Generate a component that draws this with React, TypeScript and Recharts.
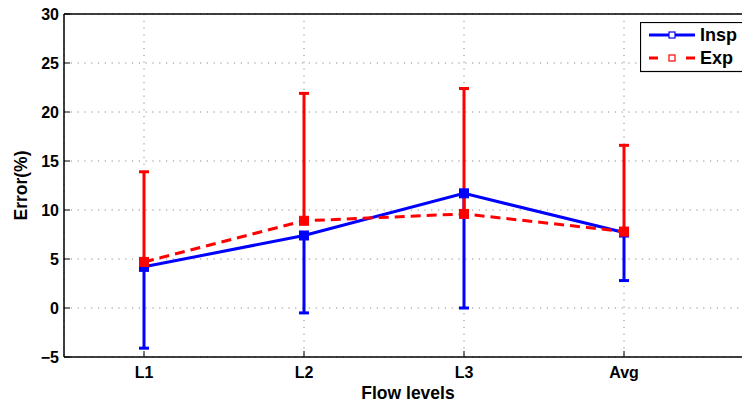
import React from 'react';
import { LineChart, Line, XAxis, YAxis, CartesianGrid, ErrorBar, ReferenceLine } from 'recharts';

const categories = ['L1', 'L2', 'L3', 'Avg'];
const inspMean = [4.2, 7.4, 11.7, 7.7];
const inspLowerErr = [8.3, 7.9, 11.7, 4.9];
const expMean = [4.7, 8.9, 9.6, 7.8];
const expUpperErr = [9.2, 13.0, 12.8, 8.8];
const yTicks = [-5, 0, 5, 10, 15, 20, 25, 30];
const xTicks = [1, 2, 3, 4];
const seriesNames = ['Insp', 'Exp'];

const data = categories.map((c, i) => ({
  x: i + 1,
  cat: c,
  insp: inspMean[i],
  inspErr: [inspLowerErr[i], 0],
  exp: expMean[i],
  expErr: [0, expUpperErr[i]],
}));

const FONT = '"Liberation Sans", Arial, Helvetica, sans-serif';
const BLUE = '#0000ff';
const RED = '#ff0000';

const squareDot = (color: string) => (props: any) => {
  const { cx, cy, index } = props;
  if (cx == null || cy == null) return <g key={index} />;
  return <rect key={index} x={cx - 4.5} y={cy - 4.5} width={9} height={9} fill={color} stroke={color} strokeWidth={1} />;
};

const LegendBox = () => {
  const rows = [
    { name: seriesNames[0], color: BLUE, dashed: false },
    { name: seriesNames[1], color: RED, dashed: true },
  ];
  return (
    <svg width={124} height={51} style={{ position: 'absolute', left: 640, top: 22, display: 'block' }}>
      <rect x={0.5} y={0.5} width={123} height={49} fill="#fff" stroke="#000" strokeWidth={1.2} />
      {rows.map((r, i) => {
        const y = 13 + i * 23;
        return (
          <g key={r.name}>
            {r.dashed ? (
              <>
                <line x1={9} y1={y} x2={18} y2={y} stroke={r.color} strokeWidth={3} />
                <line x1={46} y1={y} x2={55} y2={y} stroke={r.color} strokeWidth={3} />
              </>
            ) : (
              <line x1={9} y1={y} x2={55} y2={y} stroke={r.color} strokeWidth={3} />
            )}
            <rect x={29} y={y - 3} width={6} height={6} fill="#fff" stroke={r.color} strokeWidth={1.2} />
            <text x={60} y={y} dominantBaseline="central" fontFamily={FONT} fontWeight="bold" fontSize={18} fill="#000">
              {r.name}
            </text>
          </g>
        );
      })}
    </svg>
  );
};

export default function App() {
  return (
    <div style={{ position: 'absolute', left: 0, top: 0, width: 742, height: 405, overflow: 'hidden', background: '#fff', fontFamily: FONT }}>
      <LineChart width={770} height={405} data={data} margin={{ top: 14, right: 18, bottom: 0, left: 0 }}>
        <CartesianGrid stroke="#888" strokeDasharray="1.2 5.6" strokeWidth={1} />
        <XAxis
          type="number"
          dataKey="x"
          domain={[0.5, 4.8]}
          ticks={xTicks}
          allowDataOverflow
          height={48}
          tickFormatter={(v: number) => categories[v - 1] ?? ''}
          axisLine={{ stroke: '#000', strokeWidth: 1.5 }}
          tickLine={{ stroke: '#000', strokeWidth: 1 }}
          tickSize={-6}
          tickMargin={16}
          tick={{ fill: '#000', fontSize: 16, fontWeight: 'bold', fontFamily: FONT }}
          label={{
            content: (p: any) => {
              const vb = p.viewBox || {};
              return (
                <text x={vb.x + vb.width / 2} y={vb.y + 42} textAnchor="middle" fontFamily={FONT} fontWeight="bold" fontSize={17.5} fill="#000">
                  Flow levels
                </text>
              );
            },
          }}
        />
        <YAxis
          type="number"
          domain={[-5, 30]}
          ticks={yTicks}
          allowDataOverflow
          width={64}
          tickFormatter={(v: number) => String(v).replace('-', '\u2212')}
          axisLine={{ stroke: '#000', strokeWidth: 1.5 }}
          tickLine={{ stroke: '#000', strokeWidth: 1 }}
          tickSize={-6}
          tickMargin={11}
          tick={{ fill: '#000', fontSize: 16, fontWeight: 'bold', fontFamily: FONT }}
          label={{
            content: (p: any) => {
              const vb = p.viewBox || {};
              const cx = vb.x + 21;
              const cy = vb.y + vb.height / 2;
              return (
                <text x={cx} y={cy} transform={`rotate(-90 ${cx} ${cy})`} textAnchor="middle" dominantBaseline="central" fontFamily={FONT} fontWeight="bold" fontSize={17.5} fill="#000">
                  Error(%)
                </text>
              );
            },
          }}
        />
        <ReferenceLine y={30} stroke="#000" strokeWidth={1.5} />
        <Line
          name={seriesNames[0]}
          type="linear"
          dataKey="insp"
          stroke={BLUE}
          strokeWidth={3}
          dot={squareDot(BLUE)}
          activeDot={false}
          isAnimationActive={false}
        >
          <ErrorBar dataKey="inspErr" direction="y" width={5} stroke={BLUE} strokeWidth={3} isAnimationActive={false} />
        </Line>
        <Line
          name={seriesNames[1]}
          type="linear"
          dataKey="exp"
          stroke={RED}
          strokeWidth={3}
          strokeDasharray="10 6"
          dot={squareDot(RED)}
          activeDot={false}
          isAnimationActive={false}
        >
          <ErrorBar dataKey="expErr" direction="y" width={5} stroke={RED} strokeWidth={3} isAnimationActive={false} />
        </Line>
      </LineChart>
      <LegendBox />
    </div>
  );
}
